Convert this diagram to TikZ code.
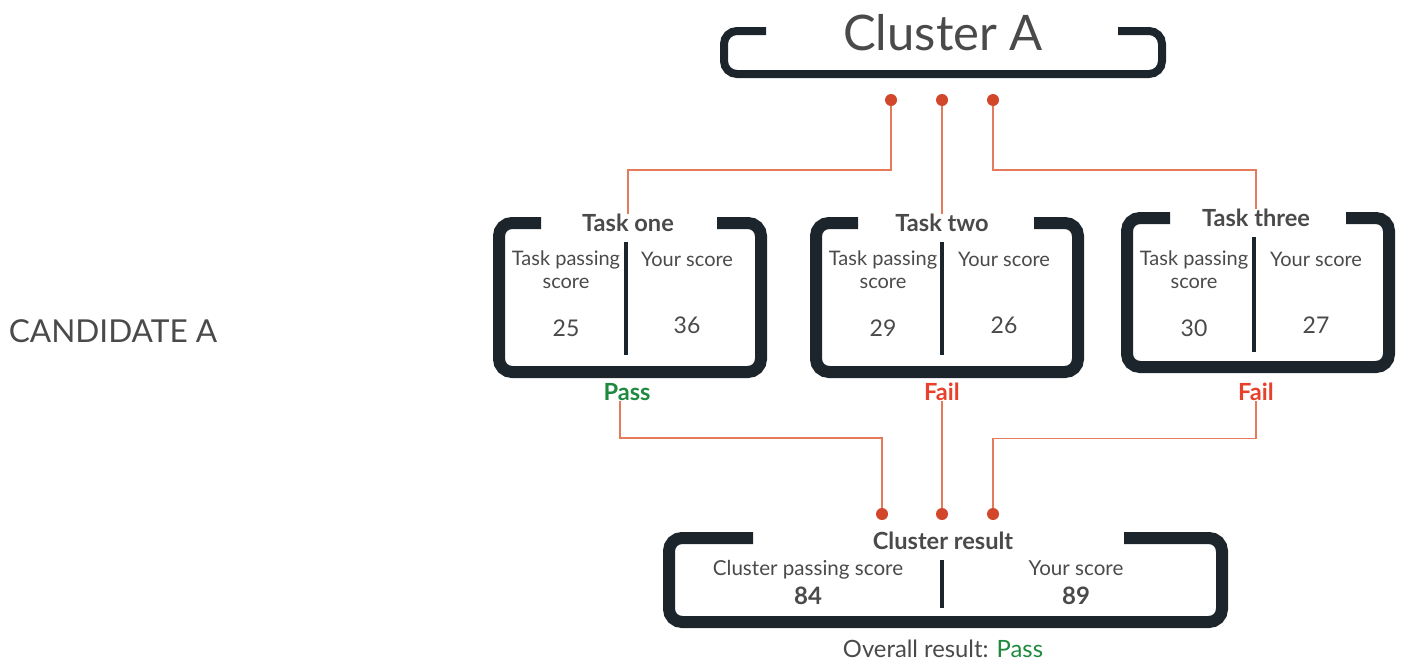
\documentclass[tikz,border=0pt]{standalone}
\usepackage{fontspec}
\setmainfont{Lato}
\usetikzlibrary{positioning}
\definecolor{navy}{HTML}{1D252C}
\definecolor{txtgray}{HTML}{4A4A4A}
\definecolor{dotred}{HTML}{D2462A}
\definecolor{linkred}{HTML}{E57A5C}
\definecolor{passgreen}{HTML}{1E8A3E}
\definecolor{failred}{HTML}{E8402A}

\begin{document}
\begin{tikzpicture}[x=0.5pt,y=-0.5pt,
    frame/.style={draw=navy,line width=6pt,rounded corners=6.5pt},
    divider/.style={draw=navy,line width=2pt},
    dot/.style={circle,fill=dotred,inner sep=0pt,minimum size=6pt},
    link/.style={draw=linkred,line width=0.75pt},
    title/.style={text=txtgray,inner sep=0pt,font=\fontsize{11.8}{14}\selectfont\bfseries},
    cell/.style={text=txtgray,inner sep=0pt,align=center,font=\fontsize{10}{11.5}\selectfont},
    score/.style={text=txtgray,inner sep=0pt,font=\fontsize{11.5}{13}\selectfont},
    verdict/.style={inner sep=0pt,font=\fontsize{11.8}{14}\selectfont\bfseries}]
    \useasboundingbox (0,0) rectangle (1402,664);

    % Candidate
    \node[text=txtgray,inner sep=0pt,font=\fontsize{15.8}{18}\selectfont] (cand) at (113,331) {CANDIDATE A};

    % Cluster A
    \draw[frame,line width=4pt] (766,31) -- (724,31) -- (724,74) -- (1162,74) -- (1162,31) -- (1118,31);
    \node[text=txtgray,inner sep=0pt,font=\fontsize{24.5}{28}\selectfont] (clA) at (943,33) {Cluster A};
    \node[dot] (ca1) at (891,100) {};
    \node[dot] (ca2) at (942,100) {};
    \node[dot] (ca3) at (993,100) {};

    % Task one
    \draw[frame] (541,223) -- (499,223) -- (499,372) -- (761,372) -- (761,223) -- (717,223);
    \draw[divider] (626,242) -- (626,355);
    \node[title] (t1) at (628,223) {Task one};
    \node[cell] (t1pass) at (566,270) {Task passing\\score};
    \node[cell] (t1your) at (687,259) {Your score};
    \node[score] (t1a) at (566,328) {25};
    \node[score] (t1b) at (687,325) {36};
    \node[verdict,text=passgreen] (v1) at (627,392) {Pass};

    % Task two
    \draw[frame] (858,223) -- (816,223) -- (816,372) -- (1078,372) -- (1078,223) -- (1034,223);
    \draw[divider] (942,242) -- (942,355);
    \node[title] (t2) at (942,223) {Task two};
    \node[cell] (t2pass) at (883,270) {Task passing\\score};
    \node[cell] (t2your) at (1004,259) {Your score};
    \node[score] (t2a) at (883,328) {29};
    \node[score] (t2b) at (1004,325) {26};
    \node[verdict,text=failred] (v2) at (942,392) {Fail};

    % Task three
    \draw[frame] (1170,218) -- (1127,218) -- (1127,367) -- (1389,367) -- (1389,218) -- (1346,218);
    \draw[divider] (1254,237) -- (1254,352);
    \node[title] (t3) at (1256,218) {Task three};
    \node[cell] (t3pass) at (1194,270) {Task passing\\score};
    \node[cell] (t3your) at (1316,259) {Your score};
    \node[score] (t3a) at (1194,328) {30};
    \node[score] (t3b) at (1316,325) {27};
    \node[verdict,text=failred] (v3) at (1256,392) {Fail};

    % Cluster result
    \node[dot] (cr1) at (882,514) {};
    \node[dot] (cr2) at (942,514) {};
    \node[dot] (cr3) at (993,514) {};
    \draw[frame] (753,538) -- (669,538) -- (669,622) -- (1222,622) -- (1222,538) -- (1124,538);
    \draw[divider] (942,560) -- (942,608);
    \node[title] (cr) at (943,541) {Cluster result};
    \node[cell,anchor=base,font=\fontsize{10.3}{12}\selectfont] (crpass) at (808,575) {Cluster passing score};
    \node[cell,anchor=base,font=\fontsize{10.3}{12}\selectfont] (cryour) at (1076,575) {Your score};
    \node[score,font=\fontsize{12}{14}\selectfont\bfseries] (cra) at (808,596) {84};
    \node[score,font=\fontsize{12}{14}\selectfont\bfseries] (crb) at (1076,596) {89};
    \node[title,font=\fontsize{11.9}{14}\selectfont] (overall) at (943,649) {Overall result: \textcolor{passgreen}{Pass}};

    % Connectors
    \draw[link] (ca1) -- ++(0,70) -| (t1.north);
    \draw[link] (ca2) -- (t2.north);
    \draw[link] (ca3) -- ++(0,70) -| (t3.north);
    \draw[link] ([xshift=-3.5pt]v1.south) -- ++(0,37) -| (cr1);
    \draw[link] (v2.south) -- (cr2);
    \draw[link] (v3.south) -- ++(0,37) -| (cr3);
\end{tikzpicture}
\end{document}
